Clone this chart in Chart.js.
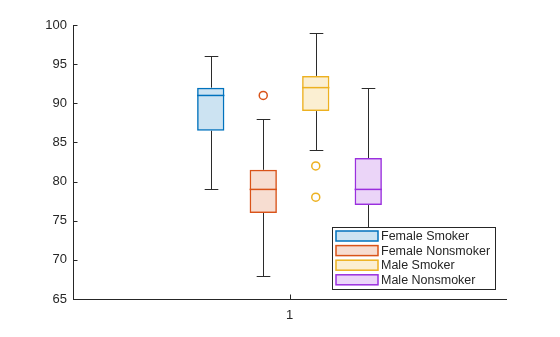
<!DOCTYPE html>
<html>
<head>
<meta charset="utf-8">
<script src="https://cdn.jsdelivr.net/npm/chart.js@4"></script>
<style>
    html, body { margin: 0; padding: 0; background: #fff; }
    #box { display: block; }
</style>
</head>
<body>
<canvas id="box" width="560" height="337"></canvas>
<script>
// box chart values
const groups = ["Female Smoker", "Female Nonsmoker", "Male Smoker", "Male Nonsmoker"];
const categories = ["1"];
const lowerWhisker = [79, 68, 84, 70];
const q1 = [86.5, 76, 89, 77];
const median = [91, 79, 92, 79];
const q3 = [92, 81.5, 93.5, 83];
const upperWhisker = [96, 88, 99, 92];
const outliers = [[], [91], [82, 78], []];
const yTicks = [65, 70, 75, 80, 85, 90, 95, 100];

const edgeColors = ["#0072BD", "#D95319", "#EDB120", "#9A2FDE"];
const fillColors = [
    "rgba(0,114,189,0.2)",
    "rgba(217,83,25,0.2)",
    "rgba(237,177,32,0.2)",
    "rgba(154,47,222,0.2)",
];
const axisColor = "#262626";

Chart.defaults.font.family = "'Liberation Sans', Arial, sans-serif";
Chart.defaults.color = axisColor;

// whiskers, medians, outliers, inward ticks and the boxed legend
const boxExtras = {
    id: "boxExtras",
    beforeDatasetsDraw(chart) {
        const ctx = chart.ctx;
        const y = chart.scales.y;
        ctx.save();
        ctx.strokeStyle = "#2b2b2b";
        ctx.lineWidth = 1;
        groups.forEach((g, i) => {
            const bar = chart.getDatasetMeta(i).data[0];
            const cx = Math.round(bar.x) + 0.5;
            const cap = bar.width / 4;
            const pairs = [[q3[i], upperWhisker[i]], [q1[i], lowerWhisker[i]]];
            pairs.forEach(([from, to]) => {
                const yEnd = Math.round(y.getPixelForValue(to)) + 0.5;
                ctx.beginPath();
                ctx.moveTo(cx, y.getPixelForValue(from));
                ctx.lineTo(cx, yEnd);
                ctx.moveTo(cx - cap, yEnd);
                ctx.lineTo(cx + cap, yEnd);
                ctx.stroke();
            });
        });
        ctx.restore();
    },
    afterDatasetsDraw(chart) {
        const ctx = chart.ctx;
        const x = chart.scales.x;
        const y = chart.scales.y;
        const area = chart.chartArea;
        ctx.save();
        groups.forEach((g, i) => {
            const bar = chart.getDatasetMeta(i).data[0];
            const half = bar.width / 2;
            // median
            ctx.strokeStyle = edgeColors[i];
            ctx.lineWidth = 1.5;
            const ym = y.getPixelForValue(median[i]);
            ctx.beginPath();
            ctx.moveTo(bar.x - half, ym);
            ctx.lineTo(bar.x + half, ym);
            ctx.stroke();
            // outliers
            outliers[i].forEach((v) => {
                ctx.beginPath();
                ctx.arc(bar.x, y.getPixelForValue(v), 4, 0, Math.PI * 2);
                ctx.stroke();
            });
        });
        // inward tick marks
        ctx.strokeStyle = axisColor;
        ctx.lineWidth = 1;
        ctx.beginPath();
        yTicks.forEach((t) => {
            const py = Math.round(y.getPixelForValue(t)) + 0.5;
            ctx.moveTo(area.left, py);
            ctx.lineTo(area.left + 4.5, py);
        });
        categories.forEach((c, k) => {
            const px = Math.round(x.getPixelForValue(k)) + 0.5;
            ctx.moveTo(px, area.bottom);
            ctx.lineTo(px, area.bottom - 4.5);
        });
        ctx.stroke();
        ctx.restore();
    },
    afterDraw(chart) {
        const ctx = chart.ctx;
        const area = chart.chartArea;
        ctx.save();
        ctx.font = "12.5px 'Liberation Sans', Arial, sans-serif";
        const textW = Math.max(...groups.map((g) => ctx.measureText(g).width));
        const rowH = 14.6;
        const swW = 42;
        const w = Math.ceil(4 + swW + 3 + textW + 4);
        const h = 62;
        const left = Math.round(area.right - 11 - w) + 0.5;
        const top = Math.round(area.bottom - 10 - h) + 0.5;
        ctx.fillStyle = "#ffffff";
        ctx.fillRect(left, top, w, h);
        ctx.strokeStyle = axisColor;
        ctx.lineWidth = 1;
        ctx.strokeRect(left, top, w, h);
        groups.forEach((g, i) => {
            const cy = top + 8.5 + i * rowH;
            ctx.fillStyle = fillColors[i];
            ctx.fillRect(left + 3.5, cy - 5, swW, 10);
            ctx.strokeStyle = edgeColors[i];
            ctx.lineWidth = 1.5;
            ctx.strokeRect(left + 3.5, cy - 5, swW, 10);
            ctx.fillStyle = axisColor;
            ctx.textBaseline = "middle";
            ctx.textAlign = "left";
            ctx.fillText(g, left + 3.5 + swW + 3, cy + 0.5);
        });
        ctx.restore();
    },
};

new Chart(document.getElementById("box"), {
    type: "bar",
    data: {
        labels: categories,
        datasets: groups.map((g, i) => ({
            label: g,
            data: [[q1[i], q3[i]]],
            backgroundColor: fillColors[i],
            borderColor: edgeColors[i],
            borderWidth: 1.5,
            borderSkipped: false,
            categoryPercentage: 0.485,
            barPercentage: 0.52,
        })),
    },
    options: {
        responsive: false,
        animation: false,
        devicePixelRatio: 1,
        layout: {
            padding: { top: 25, right: 54, left: 0, bottom: 0 },
        },
        scales: {
            x: {
                grid: { display: false, drawTicks: false },
                border: { display: true, color: axisColor, width: 1 },
                ticks: { font: { size: 13 }, color: axisColor, padding: 9 },
                afterFit(scale) {
                    scale.height = 38;
                },
            },
            y: {
                min: 65,
                max: 100,
                grid: { display: false, drawTicks: false },
                border: { display: true, color: axisColor, width: 1 },
                ticks: { stepSize: 5, font: { size: 13 }, color: axisColor, padding: 6 },
                afterFit(scale) {
                    scale.width = 73;
                },
            },
        },
        plugins: {
            legend: { display: false },
            tooltip: { enabled: false },
        },
    },
    plugins: [boxExtras],
});
</script>
</body>
</html>
